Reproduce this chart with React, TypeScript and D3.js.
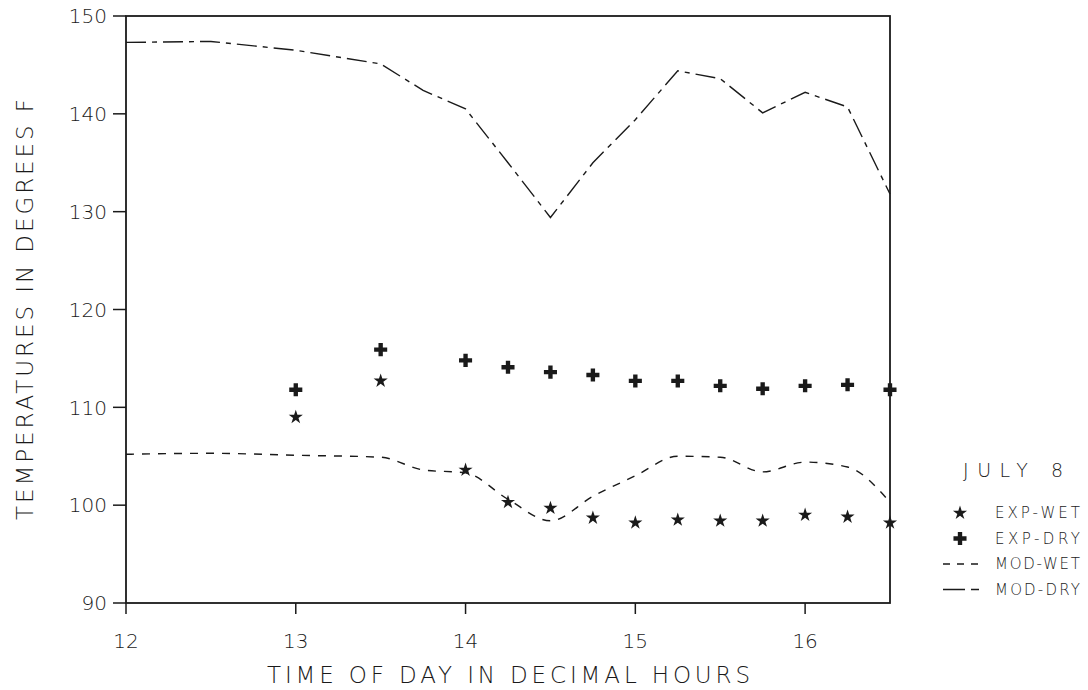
import * as d3 from 'd3';

// time of day (decimal hours) for model curves
const modelHours = [12, 12.5, 13, 13.5, 13.75, 14, 14.25, 14.5, 14.75, 15, 15.25, 15.5, 15.75, 16, 16.25, 16.5];
const modDry = [147.3, 147.4, 146.5, 145.1, 142.4, 140.5, 135.0, 129.4, 135.0, 139.4, 144.4, 143.6, 140.1, 142.2, 140.7, 131.8];
const modWet = [105.2, 105.3, 105.1, 104.9, 103.6, 103.3, 100.6, 98.4, 100.9, 103.0, 105.0, 104.9, 103.4, 104.4, 103.9, 100.3];

// measured points
const expHours = [13, 13.5, 14, 14.25, 14.5, 14.75, 15, 15.25, 15.5, 15.75, 16, 16.25, 16.5];
const expDry = [111.8, 115.9, 114.8, 114.1, 113.6, 113.3, 112.7, 112.7, 112.2, 111.9, 112.2, 112.3, 111.8];
const expWet = [109.0, 112.7, 103.6, 100.3, 99.7, 98.7, 98.2, 98.5, 98.4, 98.4, 99.0, 98.8, 98.2];

const xTicks = [12, 13, 14, 15, 16];
const yTicks = [90, 100, 110, 120, 130, 140, 150];
const legendItems = ['EXP-WET', 'EXP-DRY', 'MOD-WET', 'MOD-DRY'];

const W = 1088;
const H = 690;
const left = 126;
const right = 890;
const top = 16;
const bottom = 603;
const ink = '#1a1a1a';
const font = "'DejaVu Sans', 'Liberation Sans', sans-serif";

export default function App() {
  const x = d3.scaleLinear().domain([12, 16.5]).range([left, right]);
  const y = d3.scaleLinear().domain([90, 150]).range([bottom, top]);

  const dryLine = d3.line<number>()
    .x((_, i) => x(modelHours[i]))
    .y(d => y(d));
  const wetLine = d3.line<number>()
    .x((_, i) => x(modelHours[i]))
    .y(d => y(d))
    .curve(d3.curveMonotoneX);

  const star = d3.symbol().type(d3.symbolStar).size(62)();
  const plus = d3.symbol().type(d3.symbolCross).size(95)();

  const dryDash = '20,6,5,6';
  const wetDash = '8,8';

  return (
    <svg width={W} height={H} style={{ position: 'absolute', top: 0, left: 0, background: '#fff' }}>
      {/* frame */}
      <rect x={left} y={top} width={right - left} height={bottom - top} fill="none" stroke={ink} strokeWidth={1.8} />

      {/* y axis ticks */}
      {yTicks.map(t => (
        <g key={'y' + t}>
          <line x1={left - 13} x2={left} y1={y(t)} y2={y(t)} stroke={ink} strokeWidth={1.5} />
          <text x={left - 19} y={y(t)} dy="0.36em" textAnchor="end" fontSize={20} fontFamily={font} fill={ink} fontWeight={300}>{t}</text>
        </g>
      ))}

      {/* x axis ticks */}
      {xTicks.map(t => (
        <g key={'x' + t}>
          <line x1={x(t)} x2={x(t)} y1={bottom} y2={bottom + 11} stroke={ink} strokeWidth={1.5} />
          <text x={x(t)} y={bottom + 45} textAnchor="middle" fontSize={20} fontFamily={font} fill={ink} fontWeight={300}>{t}</text>
        </g>
      ))}

      {/* axis titles */}
      <text x={267} y={683} textLength={483} lengthAdjust="spacing" fontSize={23} fontFamily={font} fill={ink} fontWeight={300}>
        TIME OF DAY IN DECIMAL HOURS
      </text>
      <text transform="translate(33,520) rotate(-90)" textLength={421} lengthAdjust="spacing" fontSize={23} fontFamily={font} fill={ink} fontWeight={300}>
        TEMPERATURES IN DEGREES F
      </text>

      {/* model curves */}
      <path d={dryLine(modDry) || ''} fill="none" stroke={ink} strokeWidth={1.4} strokeDasharray={dryDash} />
      <path d={wetLine(modWet) || ''} fill="none" stroke={ink} strokeWidth={1.4} strokeDasharray={wetDash} />

      {/* experimental points */}
      {expDry.map((v, i) => (
        <path key={'d' + i} d={plus || ''} transform={`translate(${x(expHours[i])},${y(v)})`} fill={ink} />
      ))}
      {expWet.map((v, i) => (
        <path key={'w' + i} d={star || ''} transform={`translate(${x(expHours[i])},${y(v)})`} fill={ink} />
      ))}

      {/* legend */}
      <text x={963} y={477} textLength={100} lengthAdjust="spacing" fontSize={19} fontFamily={font} fill={ink} fontWeight={300}>JULY 8</text>
      {legendItems.map((name, i) => {
        const ly = 513 + i * 25.5;
        return (
          <g key={name}>
            {i === 0 && <path d={star || ''} transform={`translate(960,${ly})`} fill={ink} />}
            {i === 1 && <path d={plus || ''} transform={`translate(960,${ly})`} fill={ink} />}
            {i === 2 && <line x1={943} x2={979} y1={ly} y2={ly} stroke={ink} strokeWidth={1.4} strokeDasharray="7,7" />}
            {i === 3 && <line x1={943} x2={979} y1={ly} y2={ly} stroke={ink} strokeWidth={1.4} strokeDasharray="22,6,8,6" />}
            <text x={995} y={ly} dy="0.36em" textLength={85} lengthAdjust="spacing" fontSize={15} fontFamily={font} fill={ink} fontWeight={300}>{name}</text>
          </g>
        );
      })}
    </svg>
  );
}
